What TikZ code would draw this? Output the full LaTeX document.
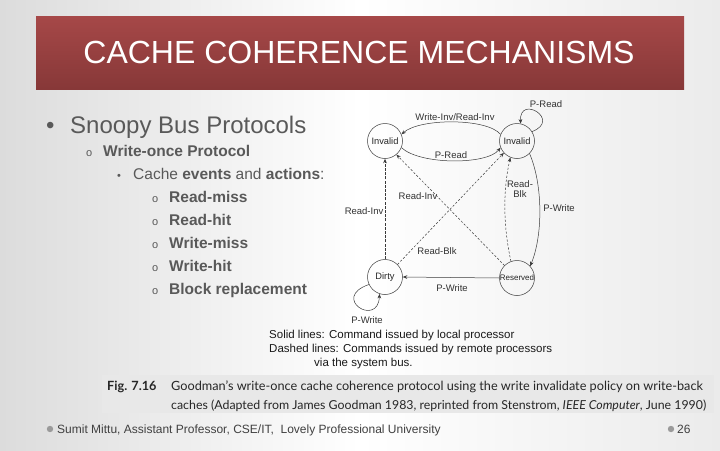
\documentclass[tikz,border=0pt]{standalone}
\usepackage{fontspec}
\setmainfont{Liberation Sans}
\newfontfamily\capfont{Lato}
\usetikzlibrary{arrows.meta}
\definecolor{titletop}{HTML}{A64848}
\definecolor{titlebot}{HTML}{873838}
\definecolor{bodytext}{HTML}{595959}
\definecolor{linegray}{HTML}{3A3A3A}
\definecolor{capbox}{HTML}{E8E8E8}
\definecolor{bgedge}{HTML}{DCDCDC}
\definecolor{bgright}{HTML}{EBEBEB}
\definecolor{foottext}{HTML}{404040}
\definecolor{dotgray}{HTML}{9A9A9A}
\begin{document}
\begin{tikzpicture}[x=1pt,y=-1pt,
  state/.style={circle,draw=linegray,line width=0.5pt,minimum size=35pt,inner sep=0pt,font=\fontsize{9.3}{10}\selectfont,text=black!85},
  lbl/.style={font=\fontsize{9.5}{10}\selectfont,text=black!80,inner sep=0.5pt},
  arr/.style={draw=linegray,line width=0.5pt,-{Stealth[length=4.5pt,width=3.6pt]}},
  dsh/.style={dash pattern=on 2.2pt off 1.8pt},
  thickdsh/.style={line width=1pt,dash pattern=on 3pt off 1.2pt},
  lvlone/.style={anchor=base west,inner sep=0pt,text=bodytext,font=\fontsize{24}{24}\selectfont},
  lvltwo/.style={anchor=base west,inner sep=0pt,text=bodytext,font=\fontsize{15.5}{16}\selectfont},
  bulo/.style={anchor=base west,inner sep=0pt,text=bodytext,font=\fontsize{11}{11}\selectfont},
  legend/.style={anchor=base west,inner sep=0pt,text=black!90,font=\fontsize{11.5}{12}\selectfont},
  captxt/.style={anchor=base west,inner sep=0pt,text=black!85,font=\capfont\fontsize{12.7}{13}\selectfont},
  foot/.style={anchor=base west,inner sep=0pt,text=foottext,font=\fontsize{12}{12}\selectfont}
]
\useasboundingbox (0,0) rectangle (720,450);
\shade[left color=bgedge,right color=bgright,middle color=white] (0,0) rectangle (720,450);
% title bar
\shade[top color=titletop,bottom color=titlebot] (36,16) rectangle (684,89);
\node[text=white,font=\fontsize{32}{32}\selectfont] (title) at (359,52) {CACHE COHERENCE MECHANISMS};
% bullet list
\node[lvlone] (b1) at (46,133) {•};
\node[lvlone] (t1) at (70,133) {Snoopy Bus Protocols};
\node[bulo] (b2) at (86,156.5) {o};
\node[lvltwo] (t2) at (103,156.5) {\bfseries Write-once Protocol};
\node[bulo] (b3) at (117,179.5) {•};
\node[lvltwo] (t3) at (133,179.5) {Cache \textbf{events} and \textbf{actions}:};
\foreach \i/\txt in {0/Read-miss,1/Read-hit,2/Write-miss,3/Write-hit,4/Block replacement}{
  \node[bulo] (bo\i) at (152,202.5+23*\i) {o};
  \node[lvltwo] (it\i) at (169,202.5+23*\i) {\bfseries\txt};
}
% state diagram
\node[state] (il) at (385,141) {Invalid};
\node[state] (ir) at (517,141) {Invalid};
\node[state] (d) at (385,277) {Dirty};
\node[state,font=\fontsize{8}{8}\selectfont] (res) at (517,278) {Reserved};
% P-Read loop on right Invalid
\draw[arr] (ir.32) .. controls (562,120) and (519,94) .. (ir.78);
\node[lbl] (lpr1) at (546,104) {P-Read};
% Write-Inv/Read-Inv
\draw[arr] (ir.158) .. controls (487,118) and (420,118) .. (il.22);
\node[lbl] (lwi) at (455,117) {Write-Inv/Read-Inv};
% P-Read
\draw[arr] (il.-22) .. controls (420,165) and (487,165) .. (ir.-158);
\node[lbl] (lpr2) at (451,155) {P-Read};
% Read-Inv vertical
\draw[arr,thickdsh] (d.north) -- (il.south);
\node[lbl,anchor=east] (lri1) at (384,211) {Read-Inv};
% Read-Inv diagonal
\draw[arr,dsh] (res.135) -- (il.-50);
\node[lbl] (lri2) at (418,196) {Read-Inv};
% Read-Blk diagonal
\draw[arr,dsh] (d.45) -- (ir.222);
\node[lbl] (lrb1) at (437,251) {Read-Blk};
% Read-Blk vertical
\draw[arr,dsh] (res.110) .. controls (503,225) and (503,190) .. (ir.248);
\node[lbl,align=center] (lrb2) at (520,189) {Read-\\Blk};
% P-Write curve
\draw[arr] (ir.-45) .. controls (543,185) and (543,235) .. (res.42);
\node[lbl] (lpw1) at (559,208) {P-Write};
% P-Write horizontal
\draw[arr] (res.west) -- (d.east);
\node[lbl] (lpw2) at (452,288) {P-Write};
% P-Write loop on Dirty
\draw[arr] (d.205) .. controls (330,298) and (378,328) .. (d.252);
\node[lbl] (lpw3) at (367,320) {P-Write};
% legend
\node[legend] (lg1) at (269,338) {Solid lines: Command issued by local processor};
\node[legend] (lg2) at (269,352) {Dashed lines: Commands issued by remote processors};
\node[legend] (lg3) at (314,366) {via the system bus.};
% caption
\fill[capbox] (102,375) rectangle (714,413);
\node[captxt] (fig) at (107,390) {\bfseries Fig. 7.16};
\node[captxt] (cap1) at (171,390) {Goodman’s write-once cache coherence protocol using the write invalidate policy on write-back};
\node[captxt,font=\capfont\fontsize{12.35}{13}\selectfont] (cap2) at (171,409) {caches (Adapted from James Goodman 1983, reprinted from Stenstrom, \textit{IEEE Computer}, June 1990)};
% footer
\fill[dotgray] (50,429) circle (3.2);
\node[foot] (ft) at (57,433.5) {Sumit Mittu, Assistant Professor, CSE/IT,\ \ Lovely Professional University};
\fill[dotgray] (671,429) circle (3.2);
\node[foot] (pg) at (677,433.5) {26};
\end{tikzpicture}
\end{document}
